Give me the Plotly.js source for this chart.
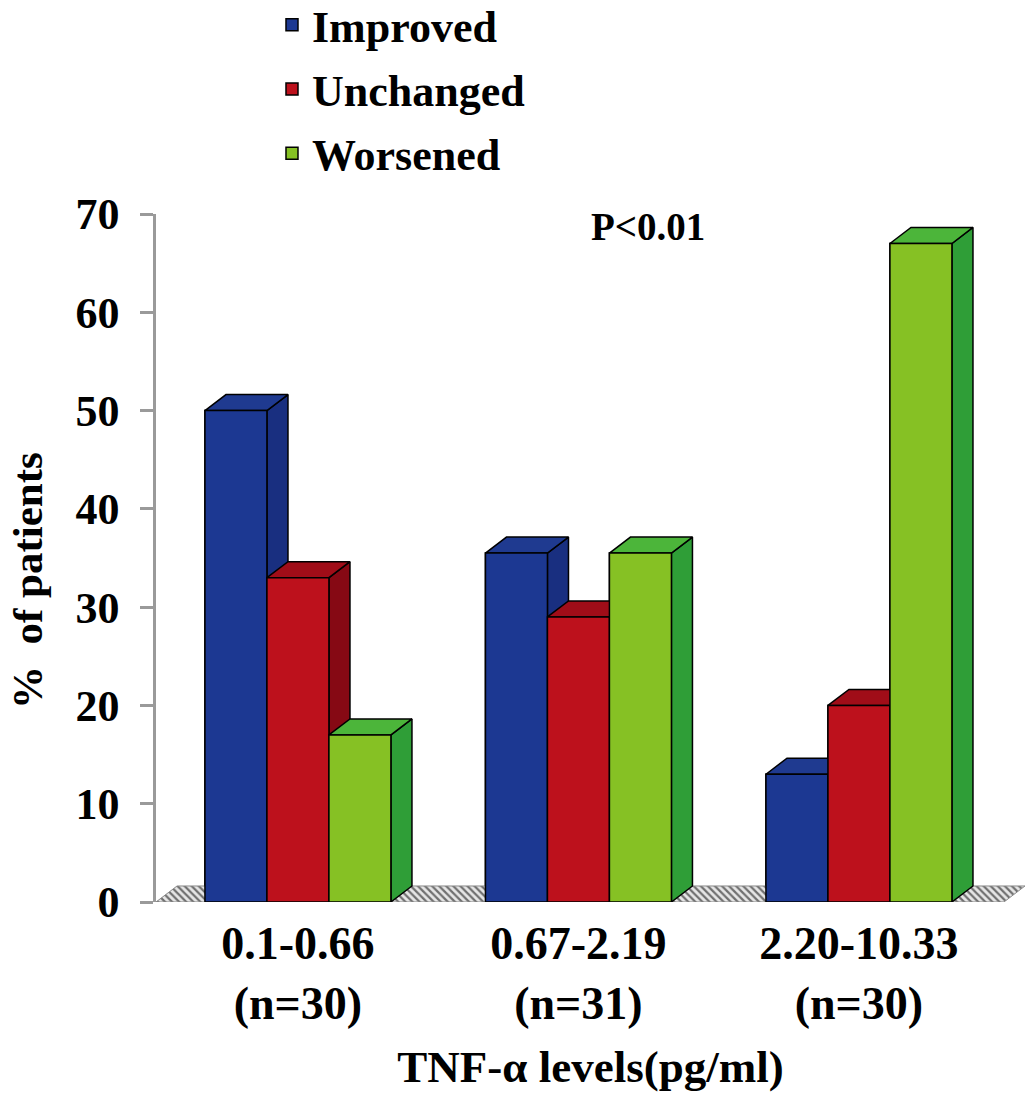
<!DOCTYPE html>
<html><head><meta charset="utf-8">
<script src="https://cdn.plot.ly/plotly-3.0.1.min.js"></script>
<style>html,body{margin:0;padding:0;background:#fff}#chart{width:1033px;height:1095px}</style>
</head><body><div id="chart"></div>
<script>
// ---- data ----
const categories = ['0.1-0.66<br>(n=30)', '0.67-2.19<br>(n=31)', '2.20-10.33<br>(n=30)'];
const seriesNames = ['Improved', 'Unchanged', 'Worsened'];
const improved = [50, 35.5, 13];
const unchanged = [33, 29, 20];
const worsened = [17, 35.5, 67];
const yTicks = [0, 10, 20, 30, 40, 50, 60, 70];
const xTitle = 'TNF-α levels(pg/ml)';
const yTitle = '%&nbsp; of patients';
const pText = 'P&lt;0.01';

// ---- styles ----
const series = [improved, unchanged, worsened];
const frontColors = ['#1c3892', '#bd111c', '#86c124'];
const sideColors = ['#192f80', '#860914', '#2f9e37'];
const topColors = ['#1f3a90', '#a00d18', '#4cb53a'];
const FONT = '"Liberation Serif", "Times New Roman", serif';
const barW = 0.221;      // width of one bar, category units
const depthX = 0.075;    // 3D depth offset (x units)
const depthY = 1.63;     // 3D depth offset (y units)
const xRange = [-0.506, 2.592];
const groupX = categories.map((c, i) => i);

const traces = [];
// floor
traces.push({
  type: 'scatter', mode: 'lines', fill: 'toself',
  x: [xRange[0], xRange[1] - depthX, xRange[1], xRange[0] + depthX, xRange[0]],
  y: [0, 0, depthY, depthY, 0],
  line: {color: '#8a8a8a', width: 1},
  fillcolor: '#d9d9d9',
  fillpattern: {shape: '\\', fgcolor: '#707070', bgcolor: '#e6e6e6', size: 5, solidity: 0.45},
  showlegend: false, hoverinfo: 'skip'
});
// legend / base bars
series.forEach((vals, s) => {
  traces.push({
    type: 'bar', name: seriesNames[s], legendgroup: seriesNames[s],
    x: groupX.map(g => g + (s - 1) * barW), y: vals, width: barW,
    marker: {color: frontColors[s], line: {color: '#000', width: 1.5}},
    hovertemplate: seriesNames[s] + ': %{y}%<extra></extra>'
  });
});
// 3D faces
groupX.forEach((g, i) => {
  series.forEach((vals, s) => {
    const v = vals[i];
    const x0 = g + (s - 1) * barW - barW / 2, x1 = x0 + barW;
    const poly = (xs, ys, col) => traces.push({
      type: 'scatter', mode: 'lines', fill: 'toself', x: xs, y: ys,
      fillcolor: col, line: {color: '#000', width: 1.5},
      showlegend: false, hoverinfo: 'skip', legendgroup: seriesNames[s]
    });
    poly([x1, x1 + depthX, x1 + depthX, x1, x1], [0, depthY, v + depthY, v, 0], sideColors[s]);
    poly([x0, x1, x1 + depthX, x0 + depthX, x0], [v, v, v + depthY, v + depthY, v], topColors[s]);
    poly([x0, x1, x1, x0, x0], [0, 0, v, v, 0], frontColors[s]);
  });
});

const tf = (size) => ({family: FONT, size: size, color: '#000', weight: 'bold'});

const layout = {
  width: 1033, height: 1095,
  margin: {l: 156, r: 8, t: 214, b: 193, autoexpand: false},
  paper_bgcolor: '#fff', plot_bgcolor: '#fff',
  barmode: 'overlay',
  showlegend: true,
  legend: {
    xref: 'container', yref: 'paper', x: 0.2633, y: 1.326, xanchor: 'left', yanchor: 'top',
    font: tf(44), tracegroupgap: 4, bgcolor: 'rgba(0,0,0,0)', traceorder: 'grouped'
  },
  xaxis: {
    range: xRange, tickmode: 'array', tickvals: groupX, ticktext: categories,
    showline: false, showgrid: false, zeroline: false, ticks: '', tickangle: 0,
    ticklabelstandoff: 10,
    tickfont: tf(46), fixedrange: true, automargin: true,
    title: {text: xTitle, font: tf(45), standoff: 22}
  },
  yaxis: {
    range: [0, 70], tickmode: 'array', tickvals: yTicks,
    showline: true, linecolor: '#9a9a9a', linewidth: 2.5,
    ticks: 'outside', ticklen: 13, tickwidth: 2.5, tickcolor: '#9a9a9a',
    ticklabelstandoff: 12, automargin: true,
    showgrid: false, zeroline: false, tickfont: tf(44), fixedrange: true
  },
  annotations: [
    {x: 1.248, y: 68.7, xref: 'x', yref: 'y', text: pText, showarrow: false, font: tf(39)},
    {x: -0.1485, y: 0.468, xref: 'paper', yref: 'paper', text: yTitle, textangle: -90,
     xanchor: 'center', yanchor: 'middle', showarrow: false, borderpad: 0, font: tf(43)}
  ]
};

Plotly.newPlot('chart', traces, layout, {displayModeBar: false, staticPlot: false});
</script>
</body></html>
